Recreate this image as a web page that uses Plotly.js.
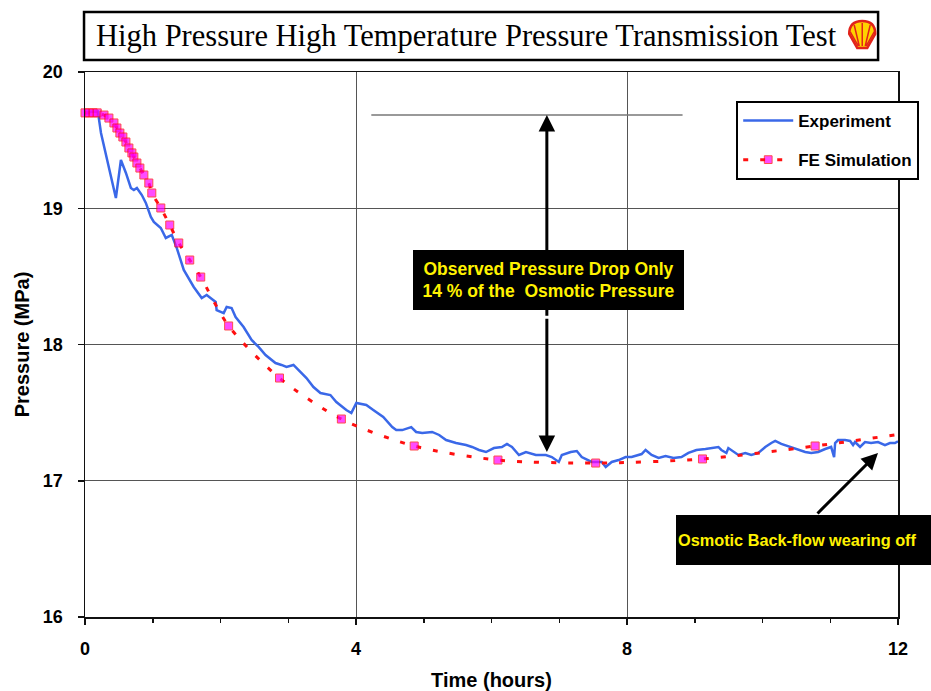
<!DOCTYPE html>
<html>
<head>
<meta charset="utf-8">
<script src="https://cdn.plot.ly/plotly-3.0.1.min.js"></script>
<style>html,body{margin:0;padding:0;background:#fff;}#chart{width:931px;height:691px;}</style>
</head>
<body>
<div id="chart"></div>
<script>
// Experiment: time (hours) and pressure (MPa)
const expT = [0,0.19,0.236,0.324,0.398,0.456,0.530,0.604,0.677,0.721,0.766,0.839,0.898,0.972,1.016,1.119,1.193,1.281,1.355,1.458,1.605,1.723,1.796,1.929,1.943,2.047,2.091,2.164,2.223,2.341,2.459,2.562,2.665,2.812,2.900,2.974,3.077,3.180,3.269,3.372,3.475,3.622,3.710,3.857,3.931,4.005,4.152,4.255,4.402,4.535,4.594,4.682,4.815,4.888,4.977,5.124,5.227,5.330,5.477,5.624,5.713,5.816,5.919,6.036,6.154,6.228,6.302,6.405,6.508,6.655,6.802,6.890,6.949,6.993,7.038,7.170,7.259,7.332,7.479,7.627,7.686,7.774,7.877,7.980,8.068,8.216,8.274,8.363,8.466,8.569,8.687,8.804,8.907,9.025,9.158,9.246,9.349,9.393,9.467,9.496,9.600,9.644,9.747,9.835,9.938,10.041,10.130,10.188,10.277,10.409,10.498,10.630,10.719,10.822,10.925,11.013,11.057,11.072,11.116,11.219,11.293,11.337,11.366,11.440,11.513,11.602,11.705,11.808,11.881,11.955,12.0];
const expP = [19.706,19.71,19.552,19.354,19.207,19.075,19.354,19.259,19.149,19.134,19.149,19.097,19.039,18.936,18.899,18.855,18.782,18.804,18.708,18.547,18.422,18.341,18.363,18.312,18.253,18.231,18.275,18.268,18.202,18.128,18.033,17.982,17.923,17.864,17.850,17.835,17.850,17.798,17.754,17.688,17.644,17.629,17.578,17.519,17.497,17.571,17.556,17.519,17.468,17.394,17.372,17.372,17.394,17.358,17.350,17.358,17.336,17.299,17.277,17.262,17.248,17.226,17.211,17.240,17.248,17.270,17.248,17.189,17.211,17.189,17.189,17.174,17.152,17.138,17.189,17.211,17.218,17.174,17.138,17.138,17.101,17.138,17.152,17.174,17.174,17.196,17.226,17.189,17.167,17.182,17.167,17.174,17.204,17.226,17.233,17.240,17.248,17.226,17.204,17.240,17.204,17.189,17.204,17.189,17.204,17.248,17.277,17.292,17.270,17.248,17.233,17.211,17.204,17.211,17.233,17.248,17.174,17.277,17.299,17.299,17.292,17.262,17.284,17.248,17.284,17.277,17.284,17.262,17.277,17.277,17.29];

// FE Simulation
const simT = [0,0.06,0.12,0.18,0.28,0.353,0.427,0.471,0.515,0.559,0.604,0.648,0.692,0.721,0.766,0.810,0.869,0.942,0.986,1.119,1.251,1.384,1.546,1.708,2.120,2.871,3.784,4.859,6.095,7.538,9.114,10.777,12.0];
const simP = [19.70,19.70,19.70,19.70,19.684,19.662,19.626,19.589,19.552,19.523,19.486,19.442,19.406,19.376,19.332,19.295,19.244,19.185,19.112,19.002,18.877,18.745,18.620,18.495,18.136,17.754,17.453,17.255,17.152,17.130,17.160,17.255,17.34];

const xTicks = [0,4,8,12];
const yTicks = [16,17,18,19,20];

const titleText = "High Pressure High Temperature Pressure Transmission Test";
const note1 = "Observed Pressure Drop Only<br>14 % of the  Osmotic Pressure";
const note2 = "Osmotic Back-flow wearing off";

const SANS = "Arial, 'Liberation Sans', sans-serif";
const SERIF = "'Times New Roman', 'Liberation Serif', serif";

const simSizes = simT.map((t, i) => (i === simT.length - 1 ? 0 : 8));

const traces = [
  {
    x: expT, y: expP, name: "Experiment", type: "scatter", mode: "lines",
    line: {color: "#3A68E8", width: 2.5},
    legendgroup: "a"
  },
  {
    x: simT, y: simP, name: "FE Simulation", type: "scatter", mode: "lines+markers",
    line: {color: "#FF1010", width: 3, dash: "5px,12px", shape: "spline", smoothing: 0.8},
    marker: {symbol: "square", size: simSizes, color: "#FF00FF", line: {color: "#FF0000", width: 1}},
    cliponaxis: false,
    legendgroup: "b"
  }
];

const layout = {
  width: 931, height: 691,
  margin: {l: 85, r: 31, t: 72, b: 74},
  paper_bgcolor: "#fff", plot_bgcolor: "#fff",
  font: {family: SANS, color: "#000"},
  showlegend: true,
  legend: {
    x: 0.801, y: 0.9468, xanchor: "left", yanchor: "top",
    bgcolor: "#fff", bordercolor: "#000", borderwidth: 2,
    font: {family: SANS, size: 17, color: "#000", weight: "bold"},
    itemwidth: 50,
    traceorder: "grouped", tracegroupgap: 14
  },
  xaxis: {
    range: [0, 12], tickvals: xTicks, ticktext: xTicks.map(String),
    showgrid: true, gridcolor: "#555", gridwidth: 1,
    zeroline: false, showline: true, linecolor: "#111", linewidth: 1.5, mirror: true,
    ticks: "outside", ticklen: 6, tickcolor: "#111", tickwidth: 1.5,
    ticklabelstandoff: 9,
    minor: {dtick: 1, ticks: "outside", ticklen: 4, tickcolor: "#111", showgrid: false},
    tickfont: {family: SANS, size: 18, color: "#000", weight: "bold"},
    title: {text: "Time (hours)", font: {family: SANS, size: 20, color: "#000", weight: "bold"}, standoff: 16}
  },
  yaxis: {
    range: [16, 20], tickvals: yTicks, ticktext: yTicks.map(String),
    showgrid: true, gridcolor: "#555", gridwidth: 1,
    zeroline: false, showline: true, linecolor: "#111", linewidth: 1.5, mirror: true,
    ticks: "outside", ticklen: 6, tickcolor: "#111", tickwidth: 1.5,
    ticklabelstandoff: 11,
    tickfont: {family: SANS, size: 18, color: "#000", weight: "bold"},
    title: {text: "Pressure (MPa)", font: {family: SANS, size: 20, color: "#000", weight: "bold"}, standoff: 8}
  },
  shapes: [
    // title box
    {type: "rect", xref: "paper", yref: "paper", x0: -0.0012, x1: 0.9755, y0: 1.022, y1: 1.110,
     line: {color: "#000", width: 2.5}, fillcolor: "#fff", layer: "above"},
    // shell logo
    {type: "path", xref: "paper", yref: "paper", xsizemode: "pixel", ysizemode: "pixel",
     xanchor: 0.956, yanchor: 1.0679,
     path: "M -5,-13 L 5,-13 L 13,1 Q 13,14 0,14 Q -13,14 -13,1 Z",
     fillcolor: "#FFD200", line: {color: "#E2231A", width: 2.5}, layer: "above"},
    {type: "path", xref: "paper", yref: "paper", xsizemode: "pixel", ysizemode: "pixel",
     xanchor: 0.956, yanchor: 1.0679,
     path: "M 0,-11 L 0,12 M -3,-11 L -8,10 M 3,-11 L 8,10 M -4,-11 L -12,3 M 4,-11 L 12,3",
     line: {color: "#E2231A", width: 1.5}, layer: "above"},
    // reference level line
    {type: "line", xref: "x", yref: "y", x0: 4.226, x1: 8.82, y0: 19.684, y1: 19.684,
     line: {color: "#777", width: 1.5}}
  ],
  annotations: [
    {xref: "paper", yref: "paper", x: 0.4687, y: 1.066, xanchor: "center", yanchor: "middle",
     text: titleText, showarrow: false, font: {family: SERIF, size: 30.5, color: "#000"}},
    // double arrow
    {xref: "x", yref: "y", axref: "x", ayref: "y", x: 6.817, y: 19.684, ax: 6.817, ay: 18.2,
     text: "", showarrow: true, arrowhead: 2, arrowsize: 1.1, arrowwidth: 3, arrowcolor: "#000"},
    {xref: "x", yref: "y", axref: "x", ayref: "y", x: 6.817, y: 17.211, ax: 6.817, ay: 18.2,
     text: "", showarrow: true, arrowhead: 2, arrowsize: 1.1, arrowwidth: 3, arrowcolor: "#000"},
    {xref: "x", yref: "y", x: 6.846, y: 18.473, xanchor: "center", yanchor: "middle",
     text: note1, showarrow: false, bgcolor: "#000", bordercolor: "#000", width: 267, height: 56,
     font: {family: SANS, size: 17.5, color: "#FFF200", weight: "bold"}},
    // back-flow arrow
    {xref: "x", yref: "y", axref: "x", ayref: "y", x: 11.705, y: 17.204, ax: 10.79, ay: 16.749,
     text: "", showarrow: true, arrowhead: 2, arrowsize: 1.1, arrowwidth: 3, arrowcolor: "#000"},
    {xref: "paper", yref: "paper", x: 0.7264, y: 0.1413, xanchor: "left", yanchor: "middle",
     text: note2, showarrow: false, bgcolor: "#000", bordercolor: "#000", borderpad: 1,
     width: 251, height: 46, align: "left",
     font: {family: SANS, size: 16.3, color: "#FFF200", weight: "bold"}}
  ]
};

Plotly.newPlot("chart", traces, layout, {displayModeBar: false, staticPlot: true});
</script>
</body>
</html>
